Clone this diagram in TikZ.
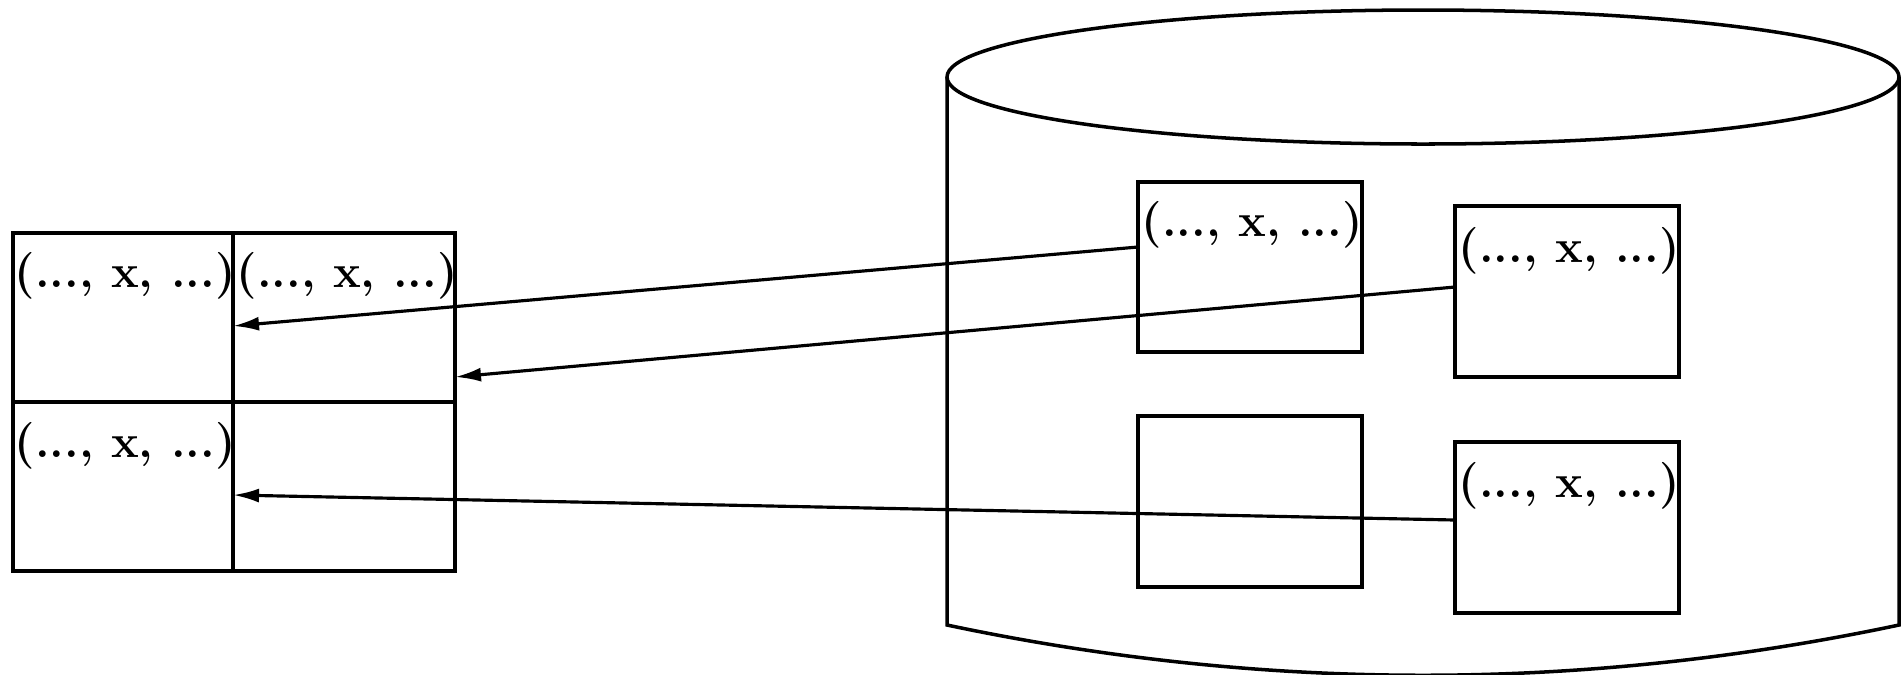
\documentclass[tikz,border=0pt]{standalone}
\usetikzlibrary{arrows.meta}
\begin{document}
\begin{tikzpicture}[x=0.1mm,y=-0.1mm,
  box/.style={draw,line width=1.1pt,rectangle,inner sep=0pt,outer sep=0pt},
  lbl/.style={font=\fontsize{13.3}{16}\selectfont\bfseries,inner sep=0pt,anchor=base west},
  conn/.style={line width=0.9pt,-{Latex[length=2.6mm,width=1.4mm]}},
  cyl/.style={line width=1pt}]
\useasboundingbox (0,0) rectangle (1901,674);
% cylinder
\draw[cyl] (1423,77) ellipse [x radius=476, y radius=67];
\draw[cyl] (947,77) -- (947,625) .. controls (1264,692) and (1582,692) .. (1899,625) -- (1899,77);
% left grid cells
\node[box,minimum width=22mm,minimum height=16.9mm] (g11) at (123,317.5) {};
\node[box,minimum width=22.2mm,minimum height=16.9mm] (g12) at (344,317.5) {};
\node[box,minimum width=22mm,minimum height=16.9mm] (g21) at (123,486.5) {};
\node[box,minimum width=22.2mm,minimum height=16.9mm] (g22) at (344,486.5) {};
% boxes in the cylinder
\node[box,minimum width=22.4mm,minimum height=17mm] (A) at (1250,267) {};
\node[box,minimum width=22.4mm,minimum height=17.1mm] (B) at (1567,291.5) {};
\node[box,minimum width=22.4mm,minimum height=17.1mm] (C) at (1250,501.5) {};
\node[box,minimum width=22.4mm,minimum height=17.1mm] (D) at (1567,527.5) {};
% labels
\node[lbl] (l11) at (14,287) {(..., x, ...)};
\node[lbl] (l12) at (236,287) {(..., x, ...)};
\node[lbl] (l21) at (14,457) {(..., x, ...)};
\node[lbl] (lA) at (1141,236) {(..., x, ...)};
\node[lbl] (lB) at (1458,262) {(..., x, ...)};
\node[lbl] (lD) at (1458,497) {(..., x, ...)};
% connector end points
\coordinate (sA) at (A.west |- 0,247);
\coordinate (sB) at (B.west |- 0,287);
\coordinate (sD) at (D.west |- 0,520);
\coordinate (t1) at (g11.east |- 0,326);
\coordinate (t2) at (g12.east |- 0,377);
\coordinate (t3) at (g21.east |- 0,495);
\draw[conn] (sA) -- (t1);
\draw[conn] (sB) -- (t2);
\draw[conn] (sD) -- (t3);
\end{tikzpicture}
\end{document}
